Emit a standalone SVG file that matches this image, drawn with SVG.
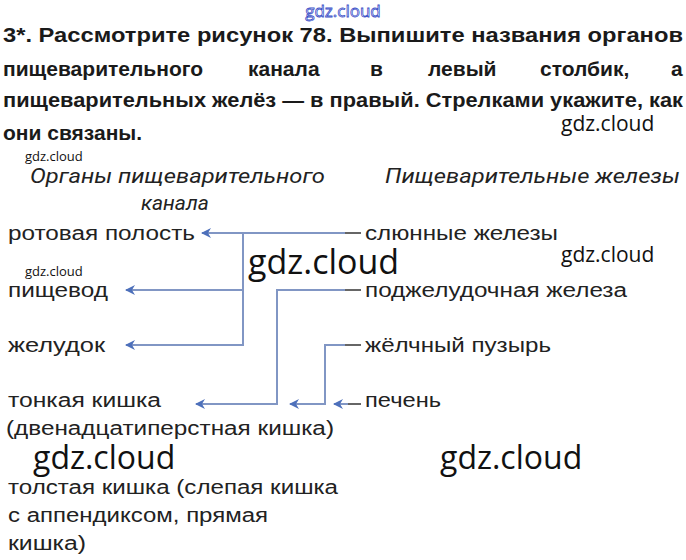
<svg xmlns="http://www.w3.org/2000/svg" width="686" height="560" viewBox="0 0 686 560">
<style>
.h{font-family:"Liberation Sans",Arial,sans-serif;font-weight:bold;font-size:21px;fill:#1a1a1a}
.c{font-family:"Roboto","Liberation Sans",sans-serif;font-style:italic;font-size:21px;fill:#222}
.t{font-family:"Liberation Sans",Arial,sans-serif;font-size:20px;fill:#222}
.w{font-family:"Open Sans","Liberation Sans",sans-serif;fill:#111}
.ln{fill:none;stroke:#8196c4;stroke-width:2}
.st{fill:none;stroke:#666;stroke-width:2}
</style>
<defs>
<marker id="ah" viewBox="0 0 10 10" refX="9" refY="5" markerWidth="5.5" markerHeight="5" orient="auto">
<path d="M10,5 L0,0 L3,5 L0,10 Z" fill="#4d70bb"/>
</marker>
</defs>
<rect width="686" height="560" fill="#fff"/>
<g id="task">
<text class="h" x="3" y="42" textLength="680" lengthAdjust="spacingAndGlyphs">3*. Рассмотрите рисунок 78. Выпишите названия органов</text>
<text class="h" x="3" y="76">пищеварительного</text>
<text class="h" x="248" y="76">канала</text>
<text class="h" x="370" y="76">в</text>
<text class="h" x="428" y="76">левый</text>
<text class="h" x="540" y="76">столбик,</text>
<text class="h" x="671" y="76">а</text>
<text class="h" x="3" y="107" textLength="680" lengthAdjust="spacingAndGlyphs">пищеварительных желёз — в правый. Стрелками укажите, как</text>
<text class="h" x="3" y="140">они связаны.</text>
</g>
<g id="headings">
<text class="c" x="30" y="183" textLength="295" lengthAdjust="spacingAndGlyphs">Органы пищеварительного</text>
<text class="c" x="141" y="210">канала</text>
<text class="c" x="385" y="183" textLength="295" lengthAdjust="spacingAndGlyphs">Пищеварительные железы</text>
</g>
<g id="organs">
<text id="n-mouth" class="t" x="8" y="240" textLength="187" lengthAdjust="spacingAndGlyphs">ротовая полость</text>
<text id="n-esoph" class="t" x="8" y="297" textLength="100" lengthAdjust="spacingAndGlyphs">пищевод</text>
<text id="n-stom" class="t" x="8" y="352" textLength="97" lengthAdjust="spacingAndGlyphs">желудок</text>
<g id="n-small">
<text class="t" x="8" y="407" textLength="153" lengthAdjust="spacingAndGlyphs">тонкая кишка</text>
<text class="t" x="6" y="435" textLength="328" lengthAdjust="spacingAndGlyphs">(двенадцатиперстная кишка)</text>
</g>
<g id="n-large">
<text class="t" x="8" y="494" textLength="330" lengthAdjust="spacingAndGlyphs">толстая кишка (слепая кишка</text>
<text class="t" x="8" y="522" textLength="260" lengthAdjust="spacingAndGlyphs">с аппендиксом, прямая</text>
<text class="t" x="8" y="550" textLength="78" lengthAdjust="spacingAndGlyphs">кишка)</text>
</g>
</g>
<g id="glands">
<text id="n-saliv" class="t" x="365" y="240" textLength="193" lengthAdjust="spacingAndGlyphs">слюнные железы</text>
<text id="n-panc" class="t" x="365" y="297" textLength="262" lengthAdjust="spacingAndGlyphs">поджелудочная железа</text>
<text id="n-gall" class="t" x="365" y="352" textLength="186" lengthAdjust="spacingAndGlyphs">жёлчный пузырь</text>
<text id="n-liver" class="t" x="365" y="407" textLength="76" lengthAdjust="spacingAndGlyphs">печень</text>
</g>
<g id="connectors">
<path class="st" d="M361,233 H345"/>
<path class="ln" d="M345,233 H202" marker-end="url(#ah)"/>
<path class="ln" d="M243,233 V345 H126" marker-end="url(#ah)"/>
<path class="ln" d="M243,290 H126" marker-end="url(#ah)"/>
<path class="st" d="M361,290 H345"/>
<path class="ln" d="M345,290 H277 V404 H196" marker-end="url(#ah)"/>
<path class="st" d="M361,345 H345"/>
<path class="ln" d="M345,345 H325 V404 H290" marker-end="url(#ah)"/>
<path class="st" d="M361,404 H348"/>
<path class="ln" d="M348,404 H334" marker-end="url(#ah)"/>
</g>
<g id="watermarks">
<text x="343" y="17" text-anchor="middle" font-family="'Open Sans','Liberation Sans',sans-serif" font-size="17" fill="#fff" stroke="#3a4fc8" stroke-width="0.8">gdz.cloud</text>
<text class="w" x="561" y="131" font-size="21">gdz.cloud</text>
<text class="w" x="25" y="161" font-size="13">gdz.cloud</text>
<text class="w" x="248" y="274" font-size="34">gdz.cloud</text>
<text class="w" x="561" y="262" font-size="21">gdz.cloud</text>
<text class="w" x="25" y="276" font-size="13">gdz.cloud</text>
<text class="w" x="33" y="469" font-size="32">gdz.cloud</text>
<text class="w" x="440" y="469" font-size="32">gdz.cloud</text>
</g>
</svg>
